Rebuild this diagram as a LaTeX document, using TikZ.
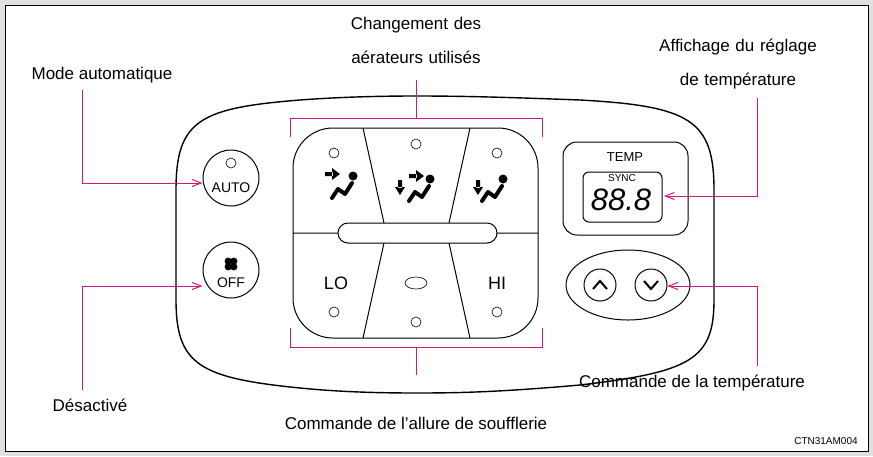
\documentclass[tikz,border=0pt]{standalone}
\usepackage{fontspec}
\setmainfont{Liberation Sans}
\usetikzlibrary{arrows.meta, positioning}
\definecolor{pink}{HTML}{D4177F}
\newcommand{\seaticon}[1]{%
  \fill (#1)++(8,-9) circle (4.5);
  \draw[line width=4pt, line cap=round, line join=round]
    (#1)++(7,-2) -- ++(-7,11) -- ++(-7,-5) -- ++(-6,9);
}
\begin{document}
\begin{tikzpicture}[x=1pt, y=-1pt,
    label/.style={font=\fontsize{17}{20}\selectfont, inner sep=0pt},
    callout/.style={draw=pink, line width=1pt, -{Straight Barb[length=9pt, width=7pt]}},
    bracket/.style={draw=pink, line width=1pt},
    panel/.style={draw, line width=1.4pt},
    btn/.style={circle, draw, line width=1pt, minimum size=56pt, inner sep=0pt},
    lamp/.style={circle, draw, line width=0.6pt, minimum size=10pt, inner sep=0pt}
]
\useasboundingbox (0,0) rectangle (873,456);
\fill[black!12] (0,0) rectangle (873,456);
\draw[fill=white, line width=0.6pt] (5,5) rectangle (868,451);

% panel outline
\draw[panel] (176,190) .. controls (176,120) and (200,108) .. (300,100)
  .. controls (340,97) and (380,96) .. (416,96)
  .. controls (460,96) and (500,97) .. (580,100)
  .. controls (690,106) and (714,120) .. (714,190) -- (714,300)
  .. controls (714,360) and (690,372) .. (580,385)
  .. controls (500,392) and (460,393) .. (416,393)
  .. controls (380,393) and (340,392) .. (300,388)
  .. controls (200,378) and (176,365) .. (176,300) -- cycle;

% auto / off
\node[btn] (auto) at (231,178) {};
\node[lamp] at (231,163) {};
\node[font=\fontsize{14}{15}\selectfont] at (231,188) {AUTO};
\node[btn] (off) at (231,270) {};
\foreach \a in {45,135,225,315}
  \fill (231,264) ++(\a:4) circle (3.6);
\node[font=\fontsize{14}{15}\selectfont] at (231,283) {OFF};

% vent block
\draw[line width=1pt, rounded corners=40pt] (293,128) rectangle (538,338);
\draw[line width=1pt] (363,128) -- (384,223) (470,128) -- (449,223)
  (384,243) -- (363,338) (449,243) -- (470,338)
  (293,233) -- (338,233) (497,233) -- (538,233);
\draw[line width=1pt, fill=white, rounded corners=10pt] (338,223) rectangle (497,243);
\foreach \p in {(334,153),(416,144),(497,153),(334,312),(416,322),(497,312)}
  \node[lamp] at \p {};
\draw[line width=0.6pt] (416,283) ellipse (11 and 6);
\node[font=\fontsize{18}{20}\selectfont] at (336,283) {LO};
\node[font=\fontsize{18}{20}\selectfont] at (497,283) {HI};
\seaticon{345,185}
\fill (325,172) rectangle (333,176) (332,168) -- (340,174) -- (332,180) -- cycle;
\seaticon{422,188}
\fill (409,174) rectangle (417,178) (416,170) -- (424,176) -- (416,182) -- cycle;
\fill (398,180) rectangle (402,188) (395,187) -- (405,187) -- (400,195) -- cycle;
\seaticon{495,188}
\fill (476,180) rectangle (480,188) (473,187) -- (483,187) -- (478,195) -- cycle;

% brackets
\draw[bracket] (290,137) -- (290,118) -- (542,118) -- (542,137);
\draw[bracket] (290,328) -- (290,347) -- (542,347) -- (542,328);
\coordinate (ventstop) at (416,118);
\coordinate (ventsbot) at (416,347);

% temp display
\draw[line width=1pt, rounded corners=14pt] (563,142) rectangle (688,235);
\node[font=\fontsize{13}{14}\selectfont] at (625,157) {TEMP};
\draw[line width=1pt, rounded corners=6pt] (583,172) rectangle (662,222);
\node[font=\fontsize{10}{11}\selectfont] at (622,178) {SYNC};
\node[font=\fontsize{31}{32}\selectfont\itshape, inner sep=0pt] (disp) at (621,200) {88.8};
\coordinate (dispend) at (664,196);

% up / down
\draw[line width=1pt] (628,285) ellipse (62 and 35);
\node[circle, draw, line width=1pt, minimum size=32pt, inner sep=0pt] (up) at (600,285) {};
\node[circle, draw, line width=1pt, minimum size=32pt, inner sep=0pt] (down) at (651,285) {};
\draw[line width=2pt] (593,289) -- (600,281) -- (607,289);
\draw[line width=2pt] (644,281) -- (651,289) -- (658,281);

% labels
\node[label] (lauto) at (102,75) {Mode automatique};
\node[label, align=center, text width=200pt] (lvents) at (416,40) {Changement des\\[14pt]aérateurs utilisés};
\node[label, align=center, text width=200pt] (ldisp) at (738,64) {Affichage du réglage\\[14pt]de température};
\node[label] (loff) at (90,405) {Désactivé};
\node[label] (ltemp) at (692,383) {Commande de la température};
\node[label] (lfan) at (416,423) {Commande de l'allure de soufflerie};
\node[font=\fontsize{10}{11}\selectfont] (code) at (826,441) {CTN31AM004};

% callouts
\draw[callout] (82,90) |- (auto.west |- 0,183);
\draw[callout] (82,390) |- (off.west |- 0,286);
\draw[callout] (757,98) |- (dispend);
\draw[callout] (757,366) |- (down.east |- 0,286);
\draw[bracket] (ventstop) -- (416,80);
\draw[bracket] (ventsbot) -- (416,375);
\end{tikzpicture}
\end{document}
